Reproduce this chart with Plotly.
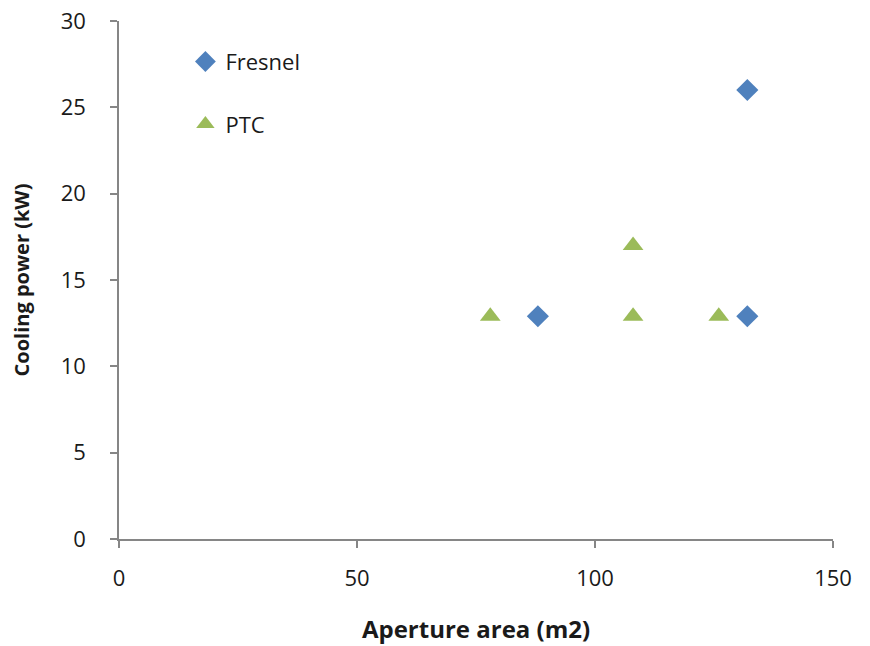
import plotly.graph_objects as go

# Aperture area (m2) vs cooling power (kW)
fresnel_area = [88, 132, 132]
fresnel_power = [12.9, 26.0, 12.9]
ptc_area = [78, 108, 108, 126]
ptc_power = [12.9, 17.0, 12.9, 12.9]

x_ticks = [0, 50, 100, 150]
y_ticks = [0, 5, 10, 15, 20, 25, 30]

font_family = "Open Sans, Lato, sans-serif"
text_color = "#1a1a1a"
axis_color = "#868686"

fig = go.Figure()
fig.add_trace(go.Scatter(
    x=fresnel_area, y=fresnel_power, mode="markers", name="Fresnel",
    legendgroup="f",
    marker=dict(symbol="diamond", size=17, color="#4F81BD"),
))
fig.add_trace(go.Scatter(
    x=ptc_area, y=ptc_power, mode="markers", name="PTC",
    legendgroup="p",
    marker=dict(symbol="triangle-up", size=18, color="#9BBB59"),
))

axis_common = dict(
    showgrid=False, zeroline=False, showline=True, automargin=False,
    linecolor=axis_color, linewidth=1.5,
    ticks="outside", ticklen=7, tickcolor=axis_color, tickwidth=1.5,
    tickfont=dict(family=font_family, size=22, color=text_color),
)

fig.update_layout(
    width=870, height=646,
    margin=dict(l=119, r=37, t=21, b=107),
    paper_bgcolor="white", plot_bgcolor="white",
    xaxis=dict(
        range=[0, 150], tickvals=x_ticks, ticklabelstandoff=12,
        minor=dict(tickvals=x_ticks, ticks="outside", ticklen=7,
                   tickcolor=axis_color, tickwidth=1.5),
        title=dict(text="<b>Aperture area (m2)</b>", standoff=30,
                   font=dict(family=font_family, size=24, color=text_color)),
        **axis_common,
    ),
    yaxis=dict(
        range=[0, 30], tickvals=y_ticks, ticklabelstandoff=20,
        minor=dict(tickvals=y_ticks, ticks="outside", ticklen=7,
                   tickcolor=axis_color, tickwidth=1.5),
        title=dict(text="<b>Cooling power (kW)</b>", standoff=26,
                   font=dict(family=font_family, size=20, color=text_color)),
        **axis_common,
    ),
    legend=dict(
        x=0.093, y=0.962, xanchor="left", yanchor="top",
        bgcolor="rgba(0,0,0,0)", tracegroupgap=31,
        font=dict(family=font_family, size=22, color=text_color),
        itemwidth=30,
    ),
    showlegend=True,
)

fig.write_html("out.html")
